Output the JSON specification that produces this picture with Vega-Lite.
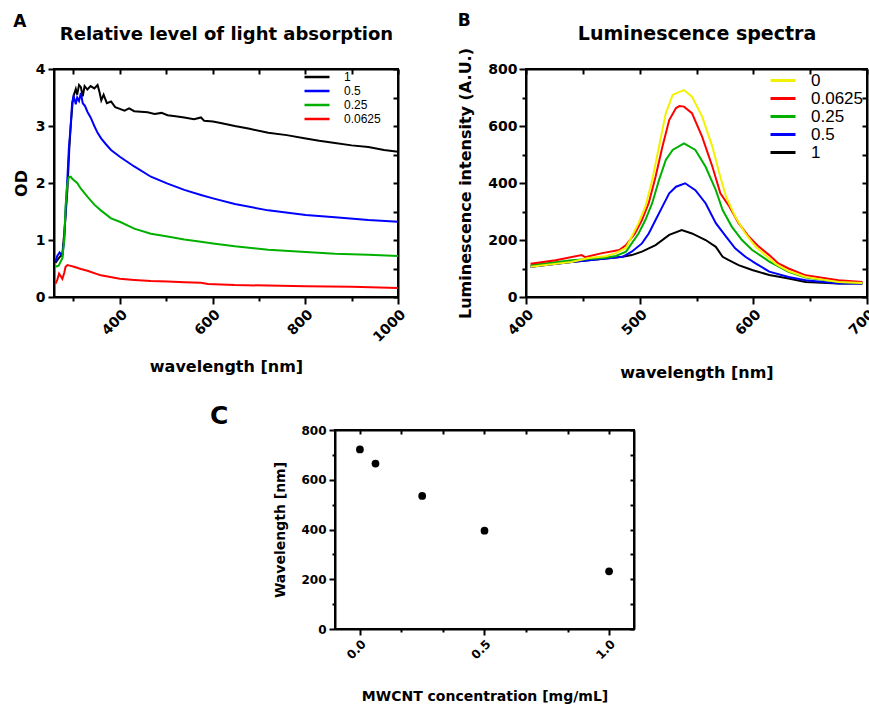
{
  "$schema": "https://vega.github.io/schema/vega-lite/v6.json",
  "padding": {"left": 12, "top": 11, "right": 0, "bottom": 0},
  "background": "white",
  "config": {
    "font": "DejaVu Sans",
    "view": {"stroke": "black", "strokeWidth": 2},
    "axis": {"labelFont": "DejaVu Sans", "labelFontWeight": "bold", "labelColor": "black", "titleFont": "DejaVu Sans", "titleFontWeight": "bold", "titleColor": "black", "domainColor": "black", "domainWidth": 2, "tickColor": "black", "tickWidth": 2, "grid": false},
    "title": {"font": "DejaVu Sans", "fontWeight": "bold", "fontSize": 17, "anchor": "start", "frame": "bounds", "color": "black", "offset": -6},
    "legend": {"title": null, "symbolType": "stroke", "symbolSize": 625, "labelColor": "black", "labelFont": "Liberation Sans", "labelFontWeight": "normal", "padding": 0, "rowPadding": 0}
  },
  "datasets": {
    "absorption": [
      {"c":"1","nm":261,"od":0.6},{"c":"1","nm":270,"od":0.7},{"c":"1","nm":276,"od":0.75},{"c":"1","nm":281,"od":1.2},{"c":"1","nm":287,"od":1.9},{"c":"1","nm":291,"od":2.6},{"c":"1","nm":294,"od":3.0},{"c":"1","nm":298,"od":3.4},{"c":"1","nm":301,"od":3.55},{"c":"1","nm":305,"od":3.65},{"c":"1","nm":308,"od":3.55},{"c":"1","nm":312,"od":3.72},{"c":"1","nm":316,"od":3.68},{"c":"1","nm":320,"od":3.52},{"c":"1","nm":324,"od":3.7},{"c":"1","nm":330,"od":3.64},{"c":"1","nm":337,"od":3.7},{"c":"1","nm":345,"od":3.66},{"c":"1","nm":352,"od":3.72},{"c":"1","nm":356,"od":3.6},{"c":"1","nm":360,"od":3.45},{"c":"1","nm":365,"od":3.55},{"c":"1","nm":372,"od":3.4},{"c":"1","nm":381,"od":3.43},{"c":"1","nm":390,"od":3.33},{"c":"1","nm":400,"od":3.3},{"c":"1","nm":410,"od":3.27},{"c":"1","nm":420,"od":3.31},{"c":"1","nm":431,"od":3.26},{"c":"1","nm":445,"od":3.25},{"c":"1","nm":460,"od":3.24},{"c":"1","nm":475,"od":3.21},{"c":"1","nm":490,"od":3.23},{"c":"1","nm":503,"od":3.19},{"c":"1","nm":520,"od":3.17},{"c":"1","nm":539,"od":3.15},{"c":"1","nm":560,"od":3.12},{"c":"1","nm":575,"od":3.15},{"c":"1","nm":582,"od":3.09},{"c":"1","nm":601,"od":3.08},{"c":"1","nm":620,"od":3.05},{"c":"1","nm":648,"od":3.0},{"c":"1","nm":680,"od":2.95},{"c":"1","nm":720,"od":2.88},{"c":"1","nm":760,"od":2.84},{"c":"1","nm":801,"od":2.78},{"c":"1","nm":830,"od":2.74},{"c":"1","nm":864,"od":2.7},{"c":"1","nm":900,"od":2.66},{"c":"1","nm":936,"od":2.63},{"c":"1","nm":970,"od":2.58},{"c":"1","nm":1000,"od":2.55},
      {"c":"0.5","nm":261,"od":0.62},{"c":"0.5","nm":265,"od":0.72},{"c":"0.5","nm":270,"od":0.78},{"c":"0.5","nm":276,"od":0.72},{"c":"0.5","nm":280,"od":1.0},{"c":"0.5","nm":283,"od":1.5},{"c":"0.5","nm":287,"od":2.1},{"c":"0.5","nm":290,"od":2.6},{"c":"0.5","nm":294,"od":3.0},{"c":"0.5","nm":297,"od":3.4},{"c":"0.5","nm":300,"od":3.52},{"c":"0.5","nm":303,"od":3.45},{"c":"0.5","nm":305,"od":3.38},{"c":"0.5","nm":308,"od":3.5},{"c":"0.5","nm":312,"od":3.44},{"c":"0.5","nm":316,"od":3.58},{"c":"0.5","nm":320,"od":3.4},{"c":"0.5","nm":325,"od":3.35},{"c":"0.5","nm":330,"od":3.25},{"c":"0.5","nm":337,"od":3.15},{"c":"0.5","nm":345,"od":3.0},{"c":"0.5","nm":352,"od":2.88},{"c":"0.5","nm":360,"od":2.78},{"c":"0.5","nm":370,"od":2.68},{"c":"0.5","nm":381,"od":2.58},{"c":"0.5","nm":400,"od":2.46},{"c":"0.5","nm":431,"od":2.29},{"c":"0.5","nm":467,"od":2.11},{"c":"0.5","nm":503,"od":1.99},{"c":"0.5","nm":539,"od":1.88},{"c":"0.5","nm":575,"od":1.79},{"c":"0.5","nm":601,"od":1.73},{"c":"0.5","nm":648,"od":1.63},{"c":"0.5","nm":720,"od":1.52},{"c":"0.5","nm":801,"od":1.44},{"c":"0.5","nm":864,"od":1.4},{"c":"0.5","nm":936,"od":1.35},{"c":"0.5","nm":1000,"od":1.32},
      {"c":"0.25","nm":261,"od":0.53},{"c":"0.25","nm":268,"od":0.55},{"c":"0.25","nm":276,"od":0.68},{"c":"0.25","nm":280,"od":1.0},{"c":"0.25","nm":283,"od":1.6},{"c":"0.25","nm":287,"od":2.0},{"c":"0.25","nm":290,"od":2.1},{"c":"0.25","nm":294,"od":2.11},{"c":"0.25","nm":297,"od":2.08},{"c":"0.25","nm":301,"od":2.05},{"c":"0.25","nm":308,"od":2.0},{"c":"0.25","nm":316,"od":1.9},{"c":"0.25","nm":330,"od":1.76},{"c":"0.25","nm":345,"od":1.62},{"c":"0.25","nm":359,"od":1.52},{"c":"0.25","nm":381,"od":1.38},{"c":"0.25","nm":400,"od":1.32},{"c":"0.25","nm":431,"od":1.2},{"c":"0.25","nm":467,"od":1.11},{"c":"0.25","nm":503,"od":1.06},{"c":"0.25","nm":539,"od":1.01},{"c":"0.25","nm":575,"od":0.97},{"c":"0.25","nm":601,"od":0.94},{"c":"0.25","nm":648,"od":0.89},{"c":"0.25","nm":720,"od":0.83},{"c":"0.25","nm":801,"od":0.79},{"c":"0.25","nm":864,"od":0.76},{"c":"0.25","nm":936,"od":0.74},{"c":"0.25","nm":1000,"od":0.72},
      {"c":"0.0625","nm":261,"od":0.23},{"c":"0.0625","nm":265,"od":0.3},{"c":"0.0625","nm":269,"od":0.41},{"c":"0.0625","nm":273,"od":0.36},{"c":"0.0625","nm":276,"od":0.32},{"c":"0.0625","nm":280,"od":0.42},{"c":"0.0625","nm":283,"od":0.53},{"c":"0.0625","nm":287,"od":0.56},{"c":"0.0625","nm":292,"od":0.55},{"c":"0.0625","nm":301,"od":0.53},{"c":"0.0625","nm":316,"od":0.49},{"c":"0.0625","nm":330,"od":0.46},{"c":"0.0625","nm":359,"od":0.38},{"c":"0.0625","nm":400,"od":0.32},{"c":"0.0625","nm":431,"od":0.3},{"c":"0.0625","nm":467,"od":0.28},{"c":"0.0625","nm":503,"od":0.27},{"c":"0.0625","nm":539,"od":0.26},{"c":"0.0625","nm":575,"od":0.25},{"c":"0.0625","nm":590,"od":0.23},{"c":"0.0625","nm":648,"od":0.21},{"c":"0.0625","nm":720,"od":0.2},{"c":"0.0625","nm":801,"od":0.19},{"c":"0.0625","nm":900,"od":0.18},{"c":"0.0625","nm":1000,"od":0.16}
    ],
    "luminescence": [
      {"s":"1","nm":404,"i":106},{"s":"1","nm":440,"i":123},{"s":"1","nm":470,"i":135},{"s":"1","nm":485,"i":141},{"s":"1","nm":493,"i":147},{"s":"1","nm":502,"i":159},{"s":"1","nm":514,"i":182},{"s":"1","nm":526,"i":218},{"s":"1","nm":537,"i":235},{"s":"1","nm":546,"i":223},{"s":"1","nm":558,"i":200},{"s":"1","nm":567,"i":176},{"s":"1","nm":573,"i":141},{"s":"1","nm":578,"i":130},{"s":"1","nm":587,"i":112},{"s":"1","nm":599,"i":95},{"s":"1","nm":614,"i":77},{"s":"1","nm":631,"i":65},{"s":"1","nm":646,"i":53},{"s":"1","nm":675,"i":47},{"s":"1","nm":696,"i":47},
      {"s":"0.5","nm":404,"i":106},{"s":"0.5","nm":440,"i":123},{"s":"0.5","nm":473,"i":136},{"s":"0.5","nm":485,"i":141},{"s":"0.5","nm":493,"i":159},{"s":"0.5","nm":502,"i":188},{"s":"0.5","nm":508,"i":223},{"s":"0.5","nm":514,"i":270},{"s":"0.5","nm":520,"i":317},{"s":"0.5","nm":526,"i":364},{"s":"0.5","nm":532,"i":387},{"s":"0.5","nm":540,"i":399},{"s":"0.5","nm":549,"i":375},{"s":"0.5","nm":558,"i":329},{"s":"0.5","nm":567,"i":259},{"s":"0.5","nm":576,"i":212},{"s":"0.5","nm":584,"i":171},{"s":"0.5","nm":593,"i":141},{"s":"0.5","nm":602,"i":118},{"s":"0.5","nm":614,"i":89},{"s":"0.5","nm":631,"i":70},{"s":"0.5","nm":646,"i":59},{"s":"0.5","nm":675,"i":47},{"s":"0.5","nm":696,"i":47},
      {"s":"0.25","nm":404,"i":111},{"s":"0.25","nm":440,"i":129},{"s":"0.25","nm":470,"i":138},{"s":"0.25","nm":479,"i":144},{"s":"0.25","nm":488,"i":159},{"s":"0.25","nm":493,"i":188},{"s":"0.25","nm":499,"i":223},{"s":"0.25","nm":505,"i":270},{"s":"0.25","nm":511,"i":329},{"s":"0.25","nm":517,"i":410},{"s":"0.25","nm":523,"i":481},{"s":"0.25","nm":529,"i":516},{"s":"0.25","nm":539,"i":539},{"s":"0.25","nm":549,"i":516},{"s":"0.25","nm":558,"i":457},{"s":"0.25","nm":567,"i":375},{"s":"0.25","nm":573,"i":305},{"s":"0.25","nm":581,"i":247},{"s":"0.25","nm":590,"i":200},{"s":"0.25","nm":599,"i":165},{"s":"0.25","nm":608,"i":141},{"s":"0.25","nm":614,"i":124},{"s":"0.25","nm":631,"i":88},{"s":"0.25","nm":646,"i":68},{"s":"0.25","nm":675,"i":53},{"s":"0.25","nm":696,"i":49},
      {"s":"0.0625","nm":404,"i":117},{"s":"0.0625","nm":426,"i":129},{"s":"0.0625","nm":449,"i":147},{"s":"0.0625","nm":452,"i":140},{"s":"0.0625","nm":467,"i":154},{"s":"0.0625","nm":482,"i":165},{"s":"0.0625","nm":488,"i":182},{"s":"0.0625","nm":496,"i":224},{"s":"0.0625","nm":502,"i":270},{"s":"0.0625","nm":508,"i":330},{"s":"0.0625","nm":514,"i":422},{"s":"0.0625","nm":520,"i":527},{"s":"0.0625","nm":526,"i":621},{"s":"0.0625","nm":532,"i":663},{"s":"0.0625","nm":535,"i":670},{"s":"0.0625","nm":539,"i":668},{"s":"0.0625","nm":546,"i":645},{"s":"0.0625","nm":555,"i":562},{"s":"0.0625","nm":564,"i":457},{"s":"0.0625","nm":571,"i":364},{"s":"0.0625","nm":579,"i":317},{"s":"0.0625","nm":587,"i":259},{"s":"0.0625","nm":596,"i":212},{"s":"0.0625","nm":605,"i":176},{"s":"0.0625","nm":614,"i":147},{"s":"0.0625","nm":622,"i":118},{"s":"0.0625","nm":631,"i":100},{"s":"0.0625","nm":646,"i":76},{"s":"0.0625","nm":675,"i":59},{"s":"0.0625","nm":696,"i":53},
      {"s":"0","nm":404,"i":106},{"s":"0","nm":440,"i":123},{"s":"0","nm":455,"i":137},{"s":"0","nm":470,"i":143},{"s":"0","nm":479,"i":154},{"s":"0","nm":488,"i":172},{"s":"0","nm":493,"i":212},{"s":"0","nm":499,"i":259},{"s":"0","nm":505,"i":317},{"s":"0","nm":511,"i":410},{"s":"0","nm":517,"i":527},{"s":"0","nm":523,"i":645},{"s":"0","nm":529,"i":709},{"s":"0","nm":534,"i":718},{"s":"0","nm":539,"i":726},{"s":"0","nm":546,"i":703},{"s":"0","nm":555,"i":633},{"s":"0","nm":564,"i":527},{"s":"0","nm":570,"i":435},{"s":"0","nm":576,"i":352},{"s":"0","nm":584,"i":282},{"s":"0","nm":593,"i":223},{"s":"0","nm":602,"i":176},{"s":"0","nm":614,"i":135},{"s":"0","nm":620,"i":115},{"s":"0","nm":631,"i":91},{"s":"0","nm":646,"i":70},{"s":"0","nm":661,"i":61},{"s":"0","nm":675,"i":53},{"s":"0","nm":696,"i":49}
    ],
    "peaks": [
      {"conc":0,"peak":722},{"conc":0.0625,"peak":665},{"conc":0.25,"peak":535},{"conc":0.5,"peak":395},{"conc":1,"peak":232}
    ]
  },
  "vconcat": [
    {
      "hconcat": [
        {
          "title": {"text": "A"},
          "width": 344, "height": 228,
          "layer": [
            {
              "data": {"name": "absorption"},
              "mark": {"type": "line", "strokeWidth": 2},
              "encoding": {
                "x": {"field": "nm", "type": "quantitative", "scale": {"domain": [258, 1000], "nice": false, "zero": false},
                  "axis": {"values": [300,400,500,600,700,800,900,1000], "format": "d", "labelExpr": "datum.value % 200 == 0 ? datum.label : ''", "labelAngle": -45, "labelFontSize": 14, "labelPadding": 3, "tickSize": {"condition": {"test": "datum.value % 200 == 0", "value": 7}, "value": 4}, "title": "wavelength [nm]", "titleFontSize": 16, "titlePadding": 14}},
                "y": {"field": "od", "type": "quantitative", "scale": {"domain": [0, 4], "nice": false},
                  "axis": {"values": [0,0.5,1,1.5,2,2.5,3,3.5,4], "format": "d", "labelExpr": "datum.value % 1 == 0 ? datum.label : ''", "labelFontSize": 14, "labelPadding": 3, "tickSize": {"condition": {"test": "datum.value % 1 == 0", "value": 6}, "value": 4}, "title": "OD", "titleFontSize": 16, "titlePadding": 6}},
                "color": {"field": "c", "type": "nominal", "scale": {"domain": ["1","0.5","0.25","0.0625"], "range": ["#000000","#0000ff","#00b000","#ff0000"]},
                  "legend": {"orient": "none", "legendX": 249, "legendY": 1, "symbolStrokeWidth": 2.5, "labelFontSize": 12, "labelOffset": 13, "clipHeight": 14}}
              }
            },
            {
              "data": {"values": []},
              "mark": "point",
              "encoding": {
                "x": {"field": "nm", "type": "quantitative", "scale": {"domain": [258, 1000], "nice": false, "zero": false},
                  "axis": {"orient": "top", "values": [300,400,500,600,700,800,900,1000], "labels": false, "tickSize": -5, "title": "Relative level of light absorption", "titleFontSize": 18, "titlePadding": 25}},
                "y": {"field": "od", "type": "quantitative", "scale": {"domain": [0, 4], "nice": false},
                  "axis": {"orient": "right", "values": [0,0.5,1,1.5,2,2.5,3,3.5,4], "labels": false, "tickSize": -5, "title": null}}
              }
            }
          ],
          "resolve": {"axis": {"x": "independent", "y": "independent"}}
        },
        {
          "title": {"text": "B"},
          "width": 341, "height": 228,
          "layer": [
            {
              "data": {"name": "luminescence"},
              "mark": {"type": "line", "strokeWidth": 2},
              "encoding": {
                "x": {"field": "nm", "type": "quantitative", "scale": {"domain": [400, 700], "nice": false, "zero": false},
                  "axis": {"values": [400,450,500,550,600,650,700], "format": "d", "labelExpr": "datum.value % 100 == 0 ? datum.label : ''", "labelAngle": -45, "labelFontSize": 14, "labelPadding": 3, "tickSize": {"condition": {"test": "datum.value % 100 == 0", "value": 7}, "value": 4}, "title": "wavelength [nm]", "titleFontSize": 16, "titlePadding": 27}},
                "y": {"field": "i", "type": "quantitative", "scale": {"domain": [0, 800], "nice": false},
                  "axis": {"values": [0,100,200,300,400,500,600,700,800], "labelExpr": "datum.value % 200 == 0 ? datum.label : ''", "labelFontSize": 14, "labelPadding": 2, "tickSize": {"condition": {"test": "datum.value % 200 == 0", "value": 7}, "value": 4}, "title": "Luminescence intensity (A.U.)", "titleFontSize": 16, "titlePadding": 14}},
                "color": {"field": "s", "type": "nominal", "scale": {"domain": ["0","0.0625","0.25","0.5","1"], "range": ["#f2f200","#ff0000","#00b000","#0000ff","#000000"]},
                  "legend": {"orient": "none", "legendX": 243, "legendY": 3, "symbolStrokeWidth": 3, "labelFontSize": 17, "labelOffset": 14, "clipHeight": 17}}
              }
            },
            {
              "data": {"values": []},
              "mark": "point",
              "encoding": {
                "x": {"field": "nm", "type": "quantitative", "scale": {"domain": [400, 700], "nice": false, "zero": false},
                  "axis": {"orient": "top", "values": [400,450,500,550,600,650,700], "labels": false, "tickSize": -5, "title": "Luminescence spectra", "titleFontSize": 19, "titlePadding": 25}},
                "y": {"field": "i", "type": "quantitative", "scale": {"domain": [0, 800], "nice": false},
                  "axis": {"orient": "right", "values": [0,100,200,300,400,500,600,700,800], "labels": false, "tickSize": -5, "title": null}}
              }
            }
          ],
          "resolve": {"axis": {"x": "independent", "y": "independent"}}
        }
      ],
      "spacing": 47,
      "resolve": {"scale": {"color": "independent"}, "legend": {"color": "independent"}}
    },
    {
      "hconcat": [
        {
          "width": 155, "height": 1,
          "view": {"stroke": null},
          "data": {"values": []},
          "mark": "point"
        },
        {
          "title": {"text": "C", "fontSize": 25, "frame": "group", "dx": -125, "offset": -5},
          "width": 299, "height": 199,
          "layer": [
            {
              "data": {"name": "peaks"},
              "mark": {"type": "point", "filled": true, "color": "black", "size": 60, "opacity": 1},
              "encoding": {
                "x": {"field": "conc", "type": "quantitative", "scale": {"domain": [-0.1, 1.1], "nice": false, "zero": false},
                  "axis": {"values": [0,0.16667,0.33333,0.5,0.66667,0.83333,1], "labelExpr": "datum.value == 0 || datum.value == 0.5 || datum.value == 1 ? format(datum.value, '.1f') : ''", "labelAngle": -45, "labelFontSize": 12, "labelPadding": 3, "tickSize": {"condition": {"test": "datum.value == 0 || datum.value == 0.5 || datum.value == 1", "value": 6}, "value": 3}, "title": "MWCNT concentration [mg/mL]", "titleFontSize": 14, "titlePadding": 29}},
                "y": {"field": "peak", "type": "quantitative", "scale": {"domain": [0, 800], "nice": false},
                  "axis": {"values": [0,100,200,300,400,500,600,700,800], "labelExpr": "datum.value % 200 == 0 ? datum.label : ''", "labelFontSize": 12, "labelPadding": 3, "tickSize": {"condition": {"test": "datum.value % 200 == 0", "value": 6}, "value": 3}, "title": "Wavelength [nm]", "titleFontSize": 14, "titlePadding": 13}}
              }
            },
            {
              "data": {"values": []},
              "mark": "point",
              "encoding": {
                "x": {"field": "conc", "type": "quantitative", "scale": {"domain": [-0.1, 1.1], "nice": false, "zero": false},
                  "axis": {"orient": "top", "values": [0,0.16667,0.33333,0.5,0.66667,0.83333,1], "labels": false, "tickSize": -4, "title": null}},
                "y": {"field": "peak", "type": "quantitative", "scale": {"domain": [0, 800], "nice": false},
                  "axis": {"orient": "right", "values": [0,100,200,300,400,500,600,700,800], "labels": false, "tickSize": -4, "title": null}}
              }
            }
          ],
          "resolve": {"axis": {"x": "independent", "y": "independent"}}
        }
      ],
      "spacing": 0
    }
  ],
  "spacing": 21
}
